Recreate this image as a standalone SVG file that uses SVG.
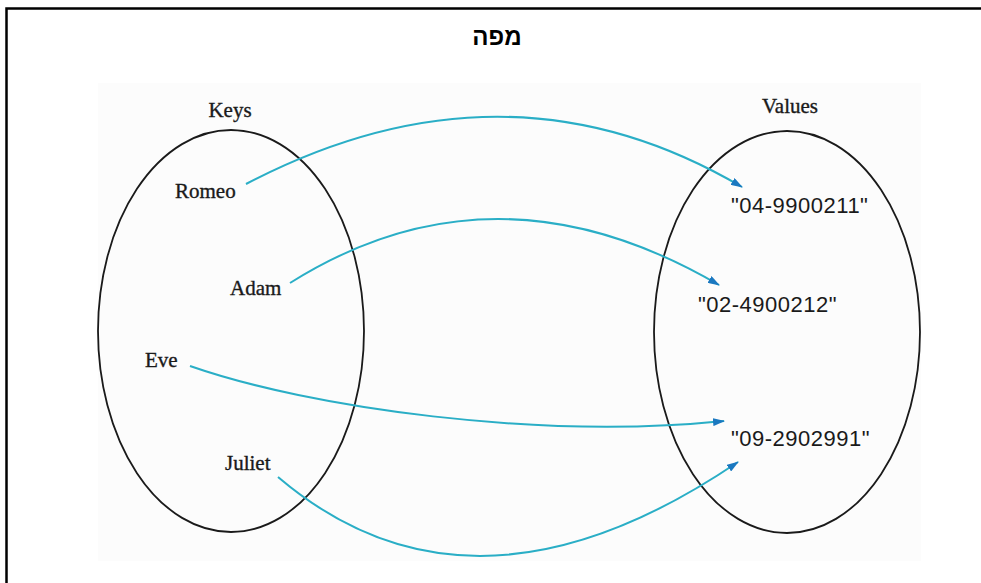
<svg xmlns="http://www.w3.org/2000/svg" width="981" height="583" viewBox="0 0 981 583">
<defs>
<style>
.frame{fill:#ffffff;stroke:#000000;stroke-width:2.5}
.bg{fill:#fcfcfc}
.set{fill:none;stroke:#1a1a1a;stroke-width:1.8}
.key{font-family:"Liberation Serif","DejaVu Serif",serif;font-size:21px;fill:#1a1a1a;stroke:#1a1a1a;stroke-width:0.35}
.val{font-family:"Liberation Sans","DejaVu Sans",sans-serif;font-size:22px;fill:#1a1a1a;letter-spacing:0.5px}
.title{font-family:"Liberation Sans","DejaVu Sans",sans-serif;font-size:24px;font-weight:bold;fill:#000}
.arrow{fill:none;stroke:#2aaec6;stroke-width:2;marker-end:url(#ah)}
</style>
<marker id="ah" viewBox="0 0 12 8" refX="11" refY="4" markerWidth="12" markerHeight="8" markerUnits="userSpaceOnUse" orient="auto">
<path d="M0,0 L12,4 L0,8 z" fill="#1a78c0"/>
</marker>
</defs>
<rect x="6.5" y="8.5" width="990" height="600" class="frame"/>
<text x="497" y="45" class="title" text-anchor="middle" direction="rtl">מפה</text>
<rect x="98" y="83" width="823" height="478" class="bg"/>
<g id="keys">
<ellipse cx="231" cy="331" rx="133" ry="201" class="set"/>
<text x="230" y="117" class="key" text-anchor="middle">Keys</text>
</g>
<g id="values">
<ellipse cx="787" cy="332" rx="133" ry="201" class="set"/>
<text x="790" y="113" class="key" text-anchor="middle">Values</text>
</g>
<g id="romeo"><text x="175" y="198" class="key">Romeo</text></g>
<g id="adam"><text x="230" y="295" class="key">Adam</text></g>
<g id="eve"><text x="145" y="367" class="key">Eve</text></g>
<g id="juliet"><text x="225" y="470" class="key">Juliet</text></g>
<g id="v1"><text x="731" y="213" class="val">"04-9900211"</text></g>
<g id="v2"><text x="698" y="312" class="val">"02-4900212"</text></g>
<g id="v3"><text x="731" y="446" class="val">"09-2902991"</text></g>
<g id="connectors">
<path class="arrow" d="M246,184 Q506,48 742,187"/>
<path class="arrow" d="M290,283 Q495,154 719,285"/>
<path class="arrow" d="M190,366 C310,408 540,440 724,421"/>
<path class="arrow" d="M278,477 Q472,642 738,462"/>
</g>
</svg>
